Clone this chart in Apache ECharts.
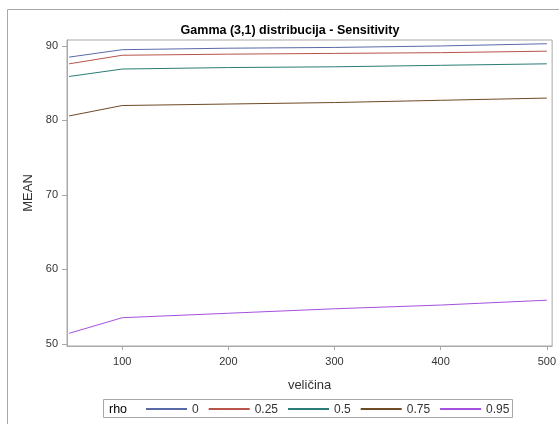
<!DOCTYPE html>
<html><head><meta charset="utf-8">
<script src="https://cdn.jsdelivr.net/npm/echarts@6/dist/echarts.min.js"></script>
<style>html,body{margin:0;padding:0;background:#fff}#c{width:559px;height:424px}</style>
</head><body><div id="c"></div>
<script>
var sizes = [50, 100, 200, 300, 400, 500];
var rhoLabels = ['0', '0.25', '0.5', '0.75', '0.95'];
var rho0 = [88.5, 89.5, 89.7, 89.8, 90.0, 90.3];
var rho025 = [87.6, 88.75, 88.9, 89.0, 89.1, 89.3];
var rho05 = [85.9, 86.9, 87.1, 87.2, 87.4, 87.6];
var rho075 = [80.6, 82.0, 82.2, 82.4, 82.7, 83.0];
var rho095 = [51.4, 53.5, 54.1, 54.7, 55.2, 55.85];
var xTicks = [100, 200, 300, 400, 500];
var yTicks = [50, 60, 70, 80, 90];

var colors = ['#5a6aa8', '#b8544a', '#2a7d75', '#6e4a25', '#a650e0'];
var allSeries = [rho0, rho025, rho05, rho075, rho095];
var font = 'Liberation Sans, Arial, sans-serif';

var chart = echarts.init(document.getElementById('c'), null, {renderer: 'canvas'});
chart.setOption({
  animation: false,
  backgroundColor: '#fff',
  title: {
    text: 'Gamma (3,1) distribucija - Sensitivity',
    left: 285, top: 19, textAlign: 'center',
    textStyle: {fontFamily: font, fontSize: 12.5, fontWeight: 'bold', color: '#000'}
  },
  graphic: [
    {type: 'rect', shape: {x: 7.5, y: 9.5, width: 600, height: 500},
     style: {fill: 'none', stroke: '#a8a8a8', lineWidth: 1}, silent: true, z: -1},
    {type: 'rect', shape: {x: 103.5, y: 399.5, width: 409, height: 18},
     style: {fill: 'none', stroke: '#a8a8a8', lineWidth: 1}, silent: true},
    {type: 'text', left: 109, top: 403,
     style: {text: 'rho', fontFamily: font, fontSize: 12.5, fill: '#000'}}
  ],
  grid: {left: 67, top: 40, right: 6, bottom: 78, show: true, borderColor: '#a8a8a8', borderWidth: 1, containLabel: false},
  legend: {
    left: 146, top: 404, padding: 0, itemGap: 10, itemWidth: 41, itemHeight: 2, icon: 'rect',
    formatter: '{a|{name}}',
    textStyle: {fontFamily: font, fontSize: 12, color: '#333',
      rich: {a: {fontFamily: font, fontSize: 12, color: '#333', padding: [2, 0, 0, 0]}}},
    data: rhoLabels
  },
  xAxis: {
    type: 'value', min: 48, max: 505,
    name: 'veličina', nameLocation: 'middle', nameGap: 33,
    nameTextStyle: {fontFamily: font, fontSize: 13, color: '#333'},
    axisLine: {show: true, lineStyle: {color: '#a8a8a8'}},
    axisTick: {show: true, length: 4, customValues: xTicks, lineStyle: {color: '#a8a8a8'}},
    axisLabel: {customValues: xTicks, margin: 10, fontFamily: font, fontSize: 11, color: '#333'},
    splitLine: {show: false}
  },
  yAxis: {
    type: 'value', min: 49.7, max: 90.8,
    name: 'MEAN', nameLocation: 'middle', nameGap: 32,
    nameTextStyle: {fontFamily: font, fontSize: 13, color: '#333'},
    axisLine: {show: true, lineStyle: {color: '#a8a8a8'}},
    axisTick: {show: true, length: 5, customValues: yTicks, lineStyle: {color: '#a8a8a8'}},
    axisLabel: {customValues: yTicks, margin: 9, fontFamily: font, fontSize: 11, color: '#333'},
    splitLine: {show: false}
  },
  series: allSeries.map(function (vals, i) {
    return {
      name: rhoLabels[i], type: 'line', symbol: 'none',
      data: sizes.map(function (s, j) { return [s, vals[j]]; }),
      lineStyle: {color: colors[i], width: 1},
      itemStyle: {color: colors[i]}
    };
  })
});
</script></body></html>
